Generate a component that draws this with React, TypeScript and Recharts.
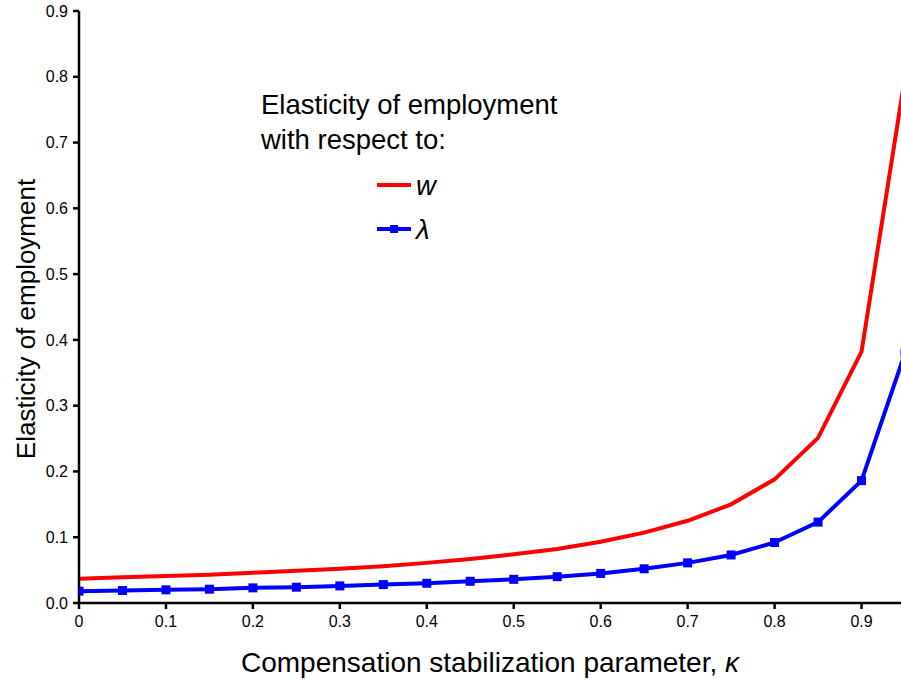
import { LineChart, Line, XAxis, YAxis } from 'recharts'

// compensation stabilization parameter (kappa)
const kappa = [0, 0.05, 0.1, 0.15, 0.2, 0.25, 0.3, 0.35, 0.4, 0.45, 0.5, 0.55, 0.6, 0.65, 0.7, 0.75, 0.8, 0.85, 0.9, 0.95]

// elasticity of employment w.r.t. w
const elastW = [0.037, 0.039, 0.041, 0.043, 0.046, 0.049, 0.052, 0.056, 0.061, 0.067, 0.074, 0.082, 0.093, 0.107, 0.125, 0.15, 0.188, 0.251, 0.382, 0.8]

// elasticity of employment w.r.t. lambda
const elastLambda = [0.018, 0.019, 0.02, 0.021, 0.023, 0.024, 0.026, 0.028, 0.03, 0.033, 0.036, 0.04, 0.045, 0.052, 0.061, 0.073, 0.092, 0.123, 0.186, 0.38]

const xTicks = [0, 0.1, 0.2, 0.3, 0.4, 0.5, 0.6, 0.7, 0.8, 0.9]
const yTicks = [0, 0.1, 0.2, 0.3, 0.4, 0.5, 0.6, 0.7, 0.8, 0.9]

const data = kappa.map((k, i) => ({ k, w: elastW[i], lambda: elastLambda[i] }))

const FONT = '"Liberation Sans", Arial, sans-serif'

const LegendBox = () => (
  <div
    style={{
      position: 'absolute',
      left: 261,
      top: 87,
      fontFamily: FONT,
      fontSize: 27.5,
      color: '#000',
      lineHeight: '35px',
      pointerEvents: 'none',
    }}
  >
    <div>Elasticity of employment</div>
    <div>with respect to:</div>
    <div style={{ marginLeft: 115, marginTop: 6, display: 'flex', alignItems: 'center', height: 44 }}>
      <svg width={36} height={10}>
        <line x1={1} y1={5} x2={35} y2={5} stroke="#ff0000" strokeWidth={4} />
      </svg>
      <span style={{ fontStyle: 'italic', marginLeft: 4 }}>w</span>
    </div>
    <div style={{ marginLeft: 115, display: 'flex', alignItems: 'center', height: 44 }}>
      <svg width={36} height={12}>
        <line x1={1} y1={6} x2={35} y2={6} stroke="#0000ff" strokeWidth={4} />
        <rect x={14} y={2} width={8} height={8} fill="#0000ff" />
      </svg>
      <span style={{ fontStyle: 'italic', marginLeft: 4 }}>λ</span>
    </div>
  </div>
)

const XLabel = ({ viewBox }: any) => {
  const cx = viewBox.x + viewBox.width / 2 - 2
  return (
    <text x={cx} y={viewBox.y + 69} textAnchor="middle" fontSize={28} fontFamily={FONT} fill="#000">
      <tspan>Compensation stabilization parameter, </tspan>
      <tspan fontStyle="italic">κ</tspan>
    </text>
  )
}

const YLabel = ({ viewBox }: any) => {
  const cy = viewBox.y + viewBox.height / 2 + 12
  const x = 35
  return (
    <text x={x} y={cy} textAnchor="middle" fontSize={26} fontFamily={FONT} fill="#000" transform={`rotate(-90 ${x} ${cy})`}>
      Elasticity of employment
    </text>
  )
}

export default function App() {
  return (
    <div style={{ position: 'absolute', left: 0, top: 0, width: 901, height: 679, overflow: 'hidden', background: '#fff' }}>
      <LineChart width={910} height={679} data={data} margin={{ top: 11, right: 5, bottom: 0, left: 0 }}>
        <XAxis
          dataKey="k"
          type="number"
          domain={[0, 0.95]}
          ticks={xTicks}
          tickFormatter={(v: number) => (v === 0 ? '0' : v.toFixed(1))}
          height={76}
          stroke="#000"
          strokeWidth={2.5}
          tickSize={6}
          tickMargin={7}
          tick={{ fill: '#000', fontSize: 16, fontFamily: FONT }}
          allowDataOverflow
          label={<XLabel />}
        />
        <YAxis
          type="number"
          domain={[0, 0.9]}
          ticks={yTicks}
          tickFormatter={(v: number) => v.toFixed(1)}
          width={79}
          stroke="#000"
          strokeWidth={2.5}
          tickSize={6}
          tickMargin={5}
          tick={{ fill: '#000', fontSize: 16, fontFamily: FONT }}
          allowDataOverflow
          label={<YLabel />}
        />
        <Line
          type="linear"
          dataKey="w"
          stroke="#ff0000"
          strokeWidth={4}
          dot={false}
          activeDot={false}
          isAnimationActive={false}
        />
        <Line
          type="linear"
          dataKey="lambda"
          stroke="#0000ff"
          strokeWidth={4}
          dot={(p: any) => (
            <rect key={p.index} x={p.cx - 4.5} y={p.cy - 4.5} width={9} height={9} fill="#0000ff" />
          )}
          activeDot={false}
          isAnimationActive={false}
        />
      </LineChart>
      <LegendBox />
    </div>
  )
}
